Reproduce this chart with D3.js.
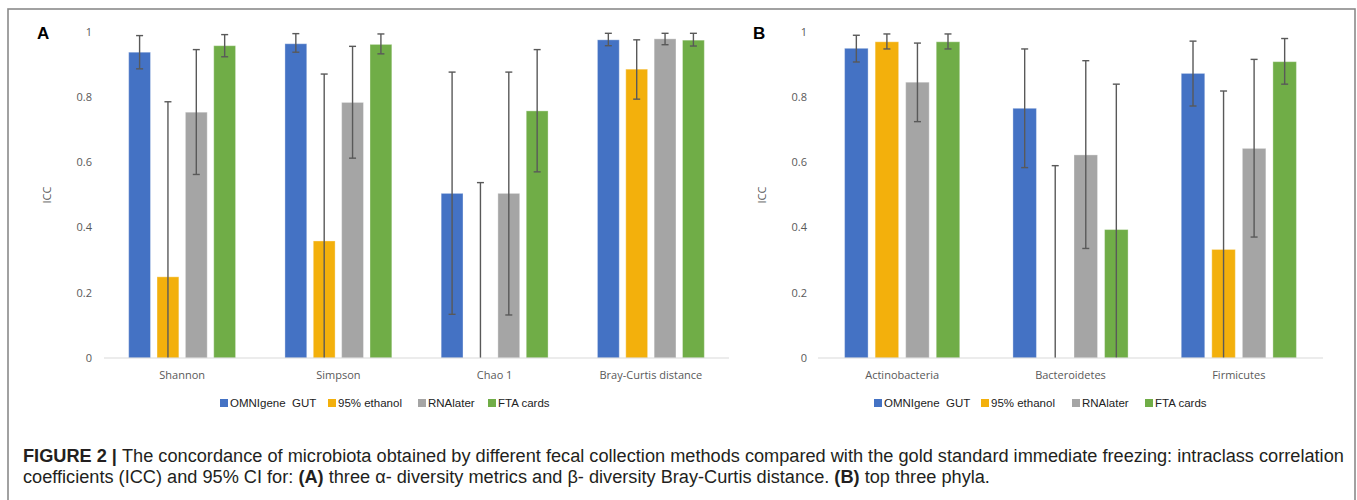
<!DOCTYPE html>
<html>
<head>
<meta charset="utf-8">
<script src="https://cdn.jsdelivr.net/npm/d3@7"></script>
<style>
  body { margin: 0; background: #fff; }
  svg { display: block; }
</style>
</head>
<body>
<div id="chart"></div>
<script>
// series (collection methods) and colours
const series = ['OMNIgene  GUT', '95% ethanol', 'RNAlater', 'FTA cards'];
const colors = ['#4472C4', '#F3B00C', '#A5A5A5', '#70AD47'];

// panel A: diversity metrics
const metricsA = ['Shannon', 'Simpson', 'Chao 1', 'Bray-Curtis distance'];
// ICC per series, one row per metric
const iccA = [
  [0.938, 0.249, 0.754, 0.958],
  [0.964, 0.359, 0.784, 0.962],
  [0.505, 0.000, 0.505, 0.758],
  [0.976, 0.886, 0.979, 0.975]
];
// 95% CI, null = lower bound below 0
const upperA = [
  [0.989, 0.786, 0.946, 0.992],
  [0.995, 0.871, 0.956, 0.994],
  [0.877, 0.538, 0.877, 0.946],
  [0.996, 0.976, 0.996, 0.996]
];
const lowerA = [
  [0.887, null, 0.563, 0.924],
  [0.938, null, 0.613, 0.933],
  [0.134, null, 0.132, 0.571],
  [0.958, 0.794, 0.961, 0.957]
];

// panel B: top three phyla
const phylaB = ['Actinobacteria', 'Bacteroidetes', 'Firmicutes'];
const iccB = [
  [0.950, 0.970, 0.846, 0.970],
  [0.766, 0.000, 0.623, 0.394],
  [0.873, 0.333, 0.643, 0.909]
];
const upperB = [
  [0.990, 0.994, 0.966, 0.994],
  [0.948, 0.590, 0.912, 0.840],
  [0.972, 0.819, 0.916, 0.980]
];
const lowerB = [
  [0.908, 0.948, 0.725, 0.948],
  [0.584, null, 0.336, null],
  [0.773, null, 0.371, 0.840]
];

const yTicks = [0, 0.2, 0.4, 0.6, 0.8, 1];

const width = 1357, height = 500;
const svg = d3.select('#chart').append('svg')
  .attr('width', width)
  .attr('height', height);

// outer frame
svg.append('rect')
  .attr('x', 8).attr('y', 9)
  .attr('width', 1347).attr('height', 600)
  .attr('fill', 'none')
  .attr('stroke', '#8a8a8a')
  .attr('stroke-width', 1.6);

function panel(opts) {
  const { cats, icc, upper, lower, x0r, letter, letterX, tickX, iccX, legend } = opts;
  const y = d3.scaleLinear().domain([0, 1]).range([358, 32]);
  const x0 = d3.scaleBand().domain(cats).range(x0r);
  const x1 = d3.scaleBand().domain(series)
    .range([0, x0.bandwidth()])
    .paddingInner(0.23).paddingOuter(0.87);

  const g = svg.append('g');

  // y tick labels (no axis line)
  g.append('g').selectAll('text')
    .data(yTicks)
    .join('text')
    .attr('x', tickX)
    .attr('y', d => y(d))
    .attr('dy', '0.35em')
    .attr('text-anchor', 'end')
    .attr('font-family', '"Open Sans", sans-serif')
    .attr('font-size', 11)
    .attr('fill', '#595959')
    .text(d => d3.format('~g')(d));

  g.append('text')
    .attr('transform', `translate(${ iccX },${ (y(0) + y(1)) / 2 }) rotate(-90)`)
    .attr('text-anchor', 'middle')
    .attr('dy', '0.35em')
    .attr('font-family', '"Open Sans", sans-serif')
    .attr('font-size', 11)
    .attr('fill', '#595959')
    .text('ICC');

  g.append('text')
    .attr('x', letterX).attr('y', 39)
    .attr('font-family', '"Liberation Sans", Arial, sans-serif')
    .attr('font-weight', 'bold')
    .attr('font-size', 17)
    .attr('fill', '#000')
    .text(letter);

  // bars
  const groups = g.append('g').selectAll('g')
    .data(cats)
    .join('g')
    .attr('transform', d => `translate(${ x0(d) },0)`);

  groups.selectAll('rect')
    .data((c, i) => series.map((s, j) => ({ s, j, v: icc[i][j] })))
    .join('rect')
    .attr('x', d => x1(d.s))
    .attr('y', d => y(d.v))
    .attr('width', x1.bandwidth())
    .attr('height', d => y(0) - y(d.v))
    .attr('fill', d => colors[d.j])
    .attr('stroke', 'rgba(255,255,255,0.35)')
    .attr('stroke-width', 1);

  // x axis baseline
  g.append('line')
    .attr('x1', x0r[0]).attr('x2', x0r[1])
    .attr('y1', y(0)).attr('y2', y(0))
    .attr('stroke', '#d9d9d9')
    .attr('stroke-width', 1);

  // error bars
  const eb = groups.selectAll('g.err')
    .data((c, i) => series.map((s, j) => ({ s, j, hi: upper[i][j], lo: lower[i][j] })))
    .join('g')
    .attr('class', 'err')
    .attr('stroke', '#595959')
    .attr('stroke-width', 1.4);

  const cx = d => x1(d.s) + x1.bandwidth() / 2;
  eb.append('line')
    .attr('x1', cx).attr('x2', cx)
    .attr('y1', d => y(d.hi))
    .attr('y2', d => y(d.lo === null ? 0 : d.lo));
  eb.append('line')
    .attr('x1', d => cx(d) - 3.5).attr('x2', d => cx(d) + 3.5)
    .attr('y1', d => y(d.hi)).attr('y2', d => y(d.hi));
  eb.filter(d => d.lo !== null).append('line')
    .attr('x1', d => cx(d) - 3.5).attr('x2', d => cx(d) + 3.5)
    .attr('y1', d => y(d.lo)).attr('y2', d => y(d.lo));

  // category labels
  g.append('g').selectAll('text')
    .data(cats)
    .join('text')
    .attr('x', d => x0(d) + x0.bandwidth() / 2)
    .attr('y', 379)
    .attr('text-anchor', 'middle')
    .attr('font-family', '"Open Sans", sans-serif')
    .attr('font-size', 11)
    .attr('fill', '#595959')
    .text(d => d);

  // legend
  const lg = g.append('g').selectAll('g')
    .data(series)
    .join('g')
    .attr('transform', (d, i) => `translate(${ legend[i] },403)`);
  lg.append('rect')
    .attr('x', 0).attr('y', -4)
    .attr('width', 8).attr('height', 8)
    .attr('fill', (d, i) => colors[i]);
  lg.append('text')
    .attr('x', 10)
    .attr('dy', '0.35em')
    .attr('font-family', '"Liberation Sans", Arial, sans-serif')
    .attr('font-size', 11.5)
    .attr('fill', '#222')
    .style('white-space', 'pre')
    .text(d => d);
}

panel({
  cats: metricsA, icc: iccA, upper: upperA, lower: lowerA,
  x0r: [104, 729], letter: 'A', letterX: 37, tickX: 92, iccX: 47,
  legend: [220, 328, 418, 488]
});

panel({
  cats: phylaB, icc: iccB, upper: upperB, lower: lowerB,
  x0r: [818, 1323], letter: 'B', letterX: 753, tickX: 807, iccX: 762,
  legend: [874, 981, 1072, 1145]
});

// caption: condensed face is not installed, so squeeze both lines by one factor
const cap = svg.append('g')
  .attr('font-family', '"Liberation Sans", sans-serif')
  .attr('font-size', 18)
  .attr('fill', '#231f20');

const line1 = cap.append('text').attr('x', 0).attr('y', 462);
line1.append('tspan').attr('font-weight', 'bold').text('FIGURE 2 | ');
line1.append('tspan').text('The concordance of microbiota obtained by different fecal collection methods compared with the gold standard immediate freezing: intraclass correlation');

const line2 = cap.append('text').attr('x', 0).attr('y', 483);
line2.append('tspan').text('coefficients (ICC) and 95% CI for: ');
line2.append('tspan').attr('font-weight', 'bold').text('(A)');
line2.append('tspan').text(' three α- diversity metrics and β- diversity Bray-Curtis distance. ');
line2.append('tspan').attr('font-weight', 'bold').text('(B)');
line2.append('tspan').text(' top three phyla.');

const w1 = line1.node().getComputedTextLength();
const sx = 1322 / w1;
cap.attr('transform', `translate(23,0) scale(${ sx },1)`);
</script>
</body>
</html>
